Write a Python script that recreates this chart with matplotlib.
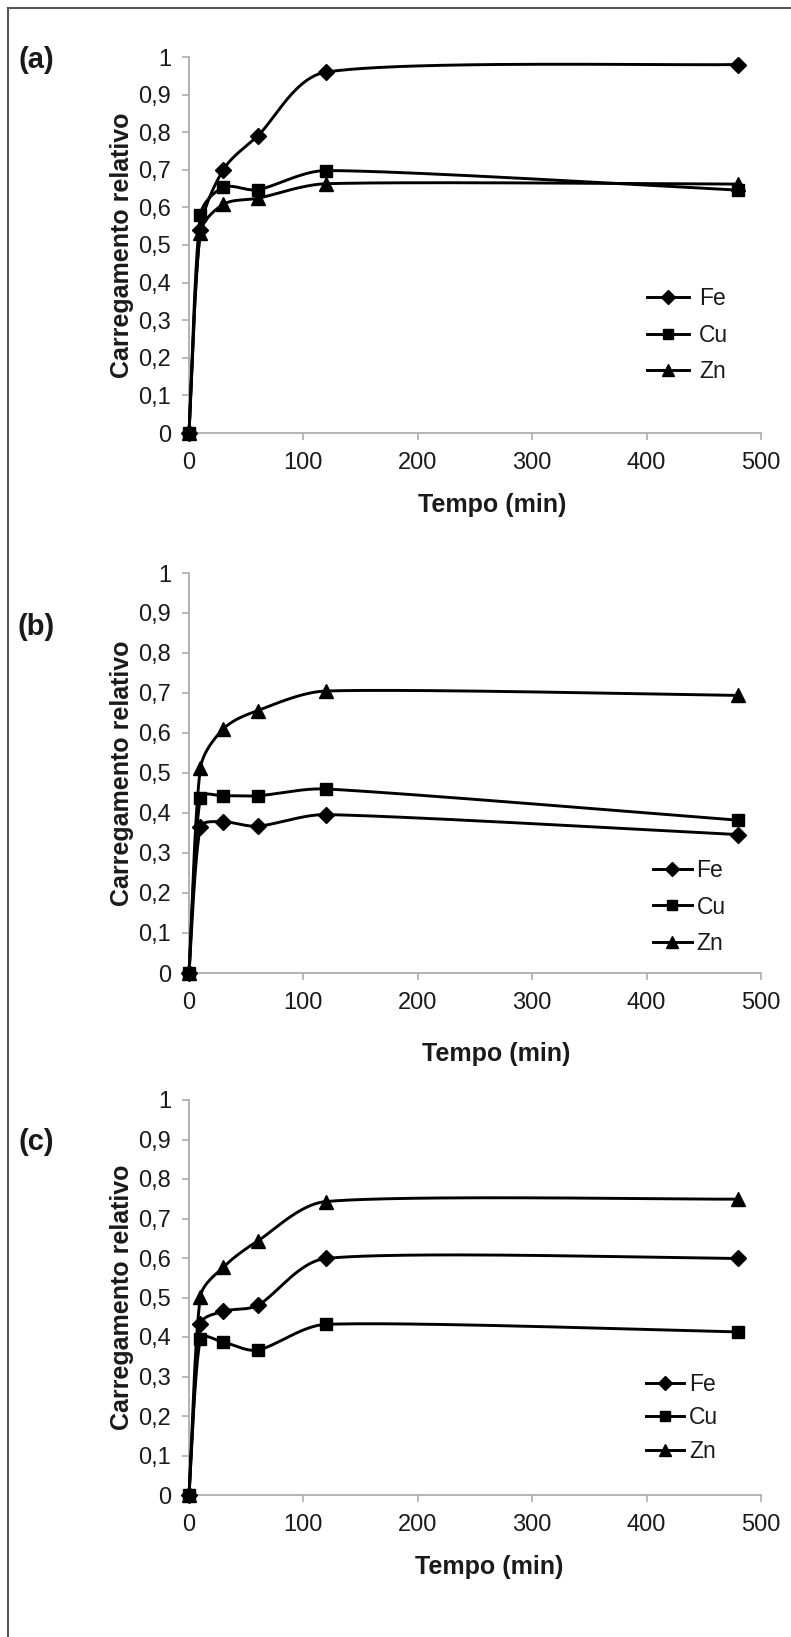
import numpy as np
import matplotlib
matplotlib.use("Agg")
import matplotlib.pyplot as plt
from matplotlib.lines import Line2D

plt.rcParams['font.family'] = ['Liberation Sans', 'DejaVu Sans']

# ---------------- data ----------------
time_min = [0, 10, 30, 60, 120, 480]
series_names = ['Fe', 'Cu', 'Zn']

a_fe = [0, 0.54, 0.70, 0.79, 0.96, 0.98]
a_cu = [0, 0.58, 0.653, 0.647, 0.698, 0.646]
a_zn = [0, 0.532, 0.608, 0.624, 0.663, 0.662]

b_fe = [0, 0.364, 0.378, 0.367, 0.396, 0.346]
b_cu = [0, 0.438, 0.443, 0.443, 0.460, 0.382]
b_zn = [0, 0.512, 0.610, 0.656, 0.705, 0.694]

c_fe = [0, 0.432, 0.465, 0.480, 0.599, 0.599]
c_cu = [0, 0.395, 0.387, 0.367, 0.432, 0.413]
c_zn = [0, 0.502, 0.577, 0.643, 0.743, 0.749]

panel_labels = ['(a)', '(b)', '(c)']
x_ticks = [0, 100, 200, 300, 400, 500]
y_ticks = [0, 0.1, 0.2, 0.3, 0.4, 0.5, 0.6, 0.7, 0.8, 0.9, 1.0]
y_ticklabels = ['0', '0,1', '0,2', '0,3', '0,4', '0,5', '0,6', '0,7', '0,8', '0,9', '1']
x_label = 'Tempo (min)'
y_label = 'Carregamento relativo'

panels = [
    [a_fe, a_cu, a_zn],
    [b_fe, b_cu, b_zn],
    [c_fe, c_cu, c_zn],
]

# ---------------- style / layout ----------------
W, H = 791, 1637
markers = ['D', 's', '^']
msizes = [8.0, 8.5, 9.5]
# axes boxes in pixels: left, top, right, bottom
axes_px = [(189, 57, 761, 433), (189, 573, 761, 973), (189, 1100, 761, 1495)]
xlabel_pos = [(0.53, -0.191), (0.537, -0.2025), (0.525, -0.182)]
# legend: x, y (axes fraction), handle length, label spacing, text pad
legend_pos = [(0.80, 0.26, 1.85, 0.58, 0.45),
              (0.811, 0.165, 1.70, 0.60, 0.2),
              (0.799, 0.195, 1.67, 0.45, 0.2)]
panel_label_px = [(36, 60), (36, 627), (36, 1142)]
axis_gray = '#a6a6a6'
text_col = '#1a1a1a'


def smooth_curve(x, y, aspect, n=50):
    """Smoothed line through the data points (Bezier segments, tangents
    from neighbouring points, control lengths limited per segment)."""
    X = np.asarray(x, float) / 500.0 * aspect
    Y = np.asarray(y, float)
    P = np.column_stack([X, Y])
    m = len(P)
    tang = []
    for i in range(m):
        a = P[i - 1] if i > 0 else P[i]
        b = P[i + 1] if i < m - 1 else P[i]
        d = b - a
        ln = np.hypot(*d)
        tang.append((d / ln if ln > 0 else d, ln))
    t = np.linspace(0, 1, n)[1:][:, None]
    out = [P[0]]
    for i in range(m - 1):
        p1, p2 = P[i], P[i + 1]
        L = np.hypot(*(p2 - p1))
        u1, ch1 = tang[i]
        u2, ch2 = tang[i + 1]
        c1 = p1 + u1 * min(L / 3.0, ch1 / 6.0)
        c2 = p2 - u2 * min(L / 3.0, ch2 / 6.0)
        seg = ((1 - t) ** 3) * p1 + 3 * ((1 - t) ** 2) * t * c1 + 3 * (1 - t) * t ** 2 * c2 + t ** 3 * p2
        out.extend(seg)
    out = np.array(out)
    return out[:, 0] / aspect * 500.0, out[:, 1]


fig = plt.figure(figsize=(W / 100, H / 100), dpi=100)

for k, series in enumerate(panels):
    l, t_, r, b = axes_px[k]
    ax = fig.add_axes([l / W, 1 - b / H, (r - l) / W, (b - t_) / H])
    aspect = (r - l) / (b - t_)
    handles = []
    for j, ys in enumerate(series):
        sx, sy = smooth_curve(time_min, ys, aspect)
        ax.plot(sx, sy, color='black', lw=2.1, solid_capstyle='round',
                solid_joinstyle='round', clip_on=False, zorder=3)
        ax.plot(time_min, ys, linestyle='none', marker=markers[j], ms=msizes[j],
                color='black', clip_on=False, zorder=4)
        handles.append(Line2D([], [], color='black', lw=2.1, marker=markers[j],
                              ms=msizes[j] * 0.85, label=series_names[j]))
    ax.set_xlim(0, 500)
    ax.set_ylim(0, 1)
    ax.set_xticks(x_ticks)
    ax.set_xticklabels([str(v) for v in x_ticks])
    ax.set_yticks(y_ticks)
    ax.set_yticklabels(y_ticklabels)
    for s in ['top', 'right']:
        ax.spines[s].set_visible(False)
    for s in ['left', 'bottom']:
        ax.spines[s].set_color(axis_gray)
        ax.spines[s].set_linewidth(1.2)
    ax.tick_params(axis='both', direction='out', length=5, width=1.1, color=axis_gray,
                   labelcolor=text_col, labelsize=17)
    ax.tick_params(axis='x', pad=9)
    ax.tick_params(axis='y', pad=8)
    ax.set_xlabel(x_label, fontsize=18, fontweight='bold', color=text_col)
    ax.xaxis.set_label_coords(*xlabel_pos[k])
    ax.xaxis.label.set_va('center')
    ax.set_ylabel(y_label, fontsize=18, fontweight='bold', color=text_col)
    ax.yaxis.set_label_coords(-0.117, 0.5)
    ax.yaxis.label.set_va('center')
    lx, ly, hl, ls, tp = legend_pos[k]
    ax.legend(handles=handles, loc='center left', bbox_to_anchor=(lx, ly), frameon=False,
              fontsize=16.5, handlelength=hl, handletextpad=tp, labelspacing=ls,
              borderpad=0, borderaxespad=0, labelcolor=text_col)
    px, py = panel_label_px[k]
    fig.text(px / W, 1 - py / H, panel_labels[k], fontsize=21, fontweight='bold',
             ha='center', va='center', color=text_col)

# outer frame (top and left edges visible)
fig.add_artist(Line2D([8 / W, 1.0], [1 - 8 / H, 1 - 8 / H], transform=fig.transFigure,
                      color='#555555', lw=1.5))
fig.add_artist(Line2D([8 / W, 8 / W], [0.0, 1 - 8 / H], transform=fig.transFigure,
                      color='#555555', lw=1.5))

fig.savefig('out.png', dpi=100)
